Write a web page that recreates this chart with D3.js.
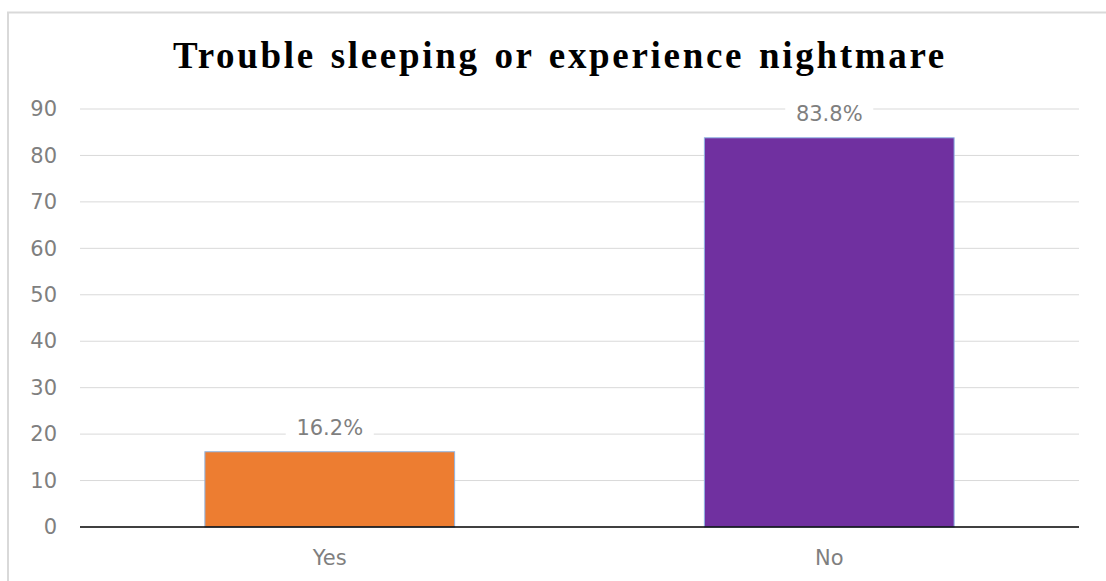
<!DOCTYPE html>
<html>
<head>
<meta charset="utf-8">
<script src="https://cdn.jsdelivr.net/npm/d3@7"></script>
<style>
  html, body { margin: 0; padding: 0; background: #fff; }
  svg { display: block; }
</style>
</head>
<body>
<svg id="chart" width="1106" height="581"></svg>
<script>
// Chart data
const categories = ["Yes", "No"];
const values = [16.2, 83.8];
const barColors = ["#ED7D31", "#7030A0"];
const yTicks = [0, 10, 20, 30, 40, 50, 60, 70, 80, 90];
const titleText = "Trouble sleeping or experience nightmare";

const svg = d3.select("#chart");
const W = 1106, H = 581;
const plot = { left: 80, right: 1079, top: 109, bottom: 527 };
const labelFont = "'DejaVu Sans', Verdana, sans-serif";

// Outer chart frame
svg.append("rect")
  .attr("x", 8).attr("y", 12.5)
  .attr("width", W + 10).attr("height", H)
  .attr("fill", "#fff")
  .attr("stroke", "#d9d9d9").attr("stroke-width", 2);

// Title: spread words across the title width
const title = svg.append("text")
  .attr("x", 560).attr("y", 68)
  .attr("text-anchor", "middle")
  .attr("font-family", "'Liberation Serif', 'Times New Roman', serif")
  .attr("font-weight", "bold")
  .attr("font-size", 37)
  .attr("letter-spacing", 2.7)
  .attr("fill", "#000")
  .text(titleText);
const natural = title.node().getComputedTextLength();
const gaps = titleText.split(" ").length - 1;
title.attr("word-spacing", Math.max(0, (774 - natural) / gaps));

const x = d3.scaleBand().domain(categories).range([plot.left, plot.right]).paddingInner(0.5).paddingOuter(0.25);
const y = d3.scaleLinear().domain([0, 90]).range([plot.bottom, plot.top]);

// Gridlines
svg.append("g")
  .selectAll("line")
  .data(yTicks.filter(d => d > 0))
  .join("line")
  .attr("x1", plot.left).attr("x2", plot.right)
  .attr("y1", d => y(d)).attr("y2", d => y(d))
  .attr("stroke", "#d9d9d9").attr("stroke-width", 1);

// Y axis labels
const yAxis = d3.axisLeft(y).tickValues(yTicks).tickSize(0).tickPadding(23);
const gy = svg.append("g").attr("transform", `translate(${plot.left},0)`).call(yAxis);
gy.select(".domain").remove();
gy.selectAll("text")
  .attr("font-family", labelFont)
  .attr("font-size", 21)
  .attr("fill", "#7f7f7f");

// Bars
svg.append("g")
  .selectAll("rect")
  .data(categories)
  .join("rect")
  .attr("x", d => x(d))
  .attr("width", x.bandwidth())
  .attr("y", (d, i) => y(values[i]))
  .attr("height", (d, i) => y(0) - y(values[i]))
  .attr("fill", (d, i) => barColors[i])
  .attr("stroke", "#8fb4e3")
  .attr("stroke-width", 1);

// Value labels with white backing
const labels = svg.append("g")
  .selectAll("g")
  .data(categories)
  .join("g")
  .attr("transform", (d, i) => `translate(${x(d) + x.bandwidth() / 2},${y(values[i]) - 24})`);
labels.append("rect")
  .attr("x", -44).attr("y", -15)
  .attr("width", 88).attr("height", 30)
  .attr("fill", "#fff");
labels.append("text")
  .attr("text-anchor", "middle")
  .attr("dy", "0.35em")
  .attr("font-family", labelFont)
  .attr("font-size", 21)
  .attr("fill", "#7f7f7f")
  .text((d, i) => values[i].toFixed(1) + "%");

// X axis
const xAxis = d3.axisBottom(x).tickSize(0);
const gx = svg.append("g").attr("transform", `translate(0,${plot.bottom})`).call(xAxis);
gx.select(".domain").attr("stroke", "#000").attr("stroke-width", 1.5).attr("d", `M${plot.left},0H${plot.right}`);
gx.selectAll("text")
  .attr("y", 31)
  .attr("dy", "0.35em")
  .attr("font-family", labelFont)
  .attr("font-size", 21)
  .attr("fill", "#7f7f7f");
</script>
</body>
</html>
